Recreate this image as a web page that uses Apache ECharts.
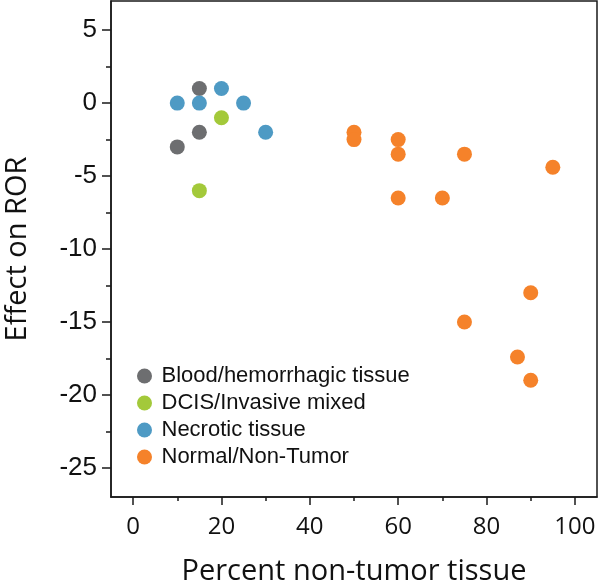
<!DOCTYPE html>
<html>
<head>
<meta charset="utf-8">
<script src="https://cdn.jsdelivr.net/npm/echarts@6/dist/echarts.min.js"></script>
<style>html,body{margin:0;padding:0;background:#fff}#c{width:600px;height:582px}</style>
</head>
<body>
<div id="c"></div>
<script>
var seriesNames = ['Blood/hemorrhagic tissue', 'DCIS/Invasive mixed', 'Necrotic tissue', 'Normal/Non-Tumor'];
var bloodData = [[15, 1], [15, -2], [10, -3]];
var dcisData = [[20, -1], [15, -6]];
var necroticData = [[10, 0], [15, 0], [20, 1], [25, 0], [30, -2]];
var normalData = [[50, -2], [50, -2.5], [60, -2.5], [60, -3.5], [75, -3.5], [95, -4.4], [60, -6.5], [70, -6.5], [90, -13], [75, -15], [87, -17.4], [90, -19]];
var xLabels = [0, 20, 40, 60, 80, 100];
var xMinor = [10, 30, 50, 70, 90];
var yLabels = [-25, -20, -15, -10, -5, 0, 5];
var yMinor = [-22.5, -17.5, -12.5, -7.5, -2.5, 2.5];
var colors = ['#6d6e70', '#a3c93a', '#4e9ac4', '#f5822a'];

var chart = echarts.init(document.getElementById('c'));
var axisColor = '#1a1a1a';
var allData = [bloodData, dcisData, necroticData, normalData];
chart.setOption({
  animation: false,
  grid: { left: 111, right: 3, top: 1, bottom: 85, containLabel: false, outerBoundsMode: 'none', show: true, borderColor: axisColor, borderWidth: 1.5, backgroundColor: 'transparent' },
  legend: {
    orient: 'vertical', left: 132, top: 360,
    icon: 'circle', itemWidth: 24, itemHeight: 15, itemGap: 5,
    textStyle: { fontFamily: 'Liberation Sans', fontSize: 22, color: '#111', lineHeight: 22 },
    data: seriesNames
  },
  xAxis: [{
    type: 'value', min: -5, max: 105, position: 'bottom',
    name: 'Percent non-tumor tissue', nameLocation: 'middle', nameGap: 60,
    nameTextStyle: { fontFamily: 'Open Sans', fontSize: 29, color: '#111' },
    axisLine: { show: true, onZero: false, lineStyle: { color: axisColor, width: 1.5 } },
    axisTick: { show: true, length: 8, customValues: xLabels, lineStyle: { color: axisColor, width: 1.5 } },
    axisLabel: { customValues: xLabels, margin: 18, fontFamily: 'Open Sans', fontSize: 24, color: '#111' },
    splitLine: { show: false }
  }, {
    type: 'value', min: -5, max: 105, position: 'bottom',
    axisLine: { show: false, onZero: false },
    axisTick: { show: true, length: 4, customValues: xMinor, lineStyle: { color: axisColor, width: 1.5 } },
    axisLabel: { show: false },
    splitLine: { show: false }
  }],
  yAxis: [{
    type: 'value', min: -27, max: 7, position: 'left',
    name: 'Effect on ROR', nameLocation: 'middle', nameGap: 79,
    nameTextStyle: { fontFamily: 'Open Sans', fontSize: 29, color: '#111' },
    axisLine: { show: true, onZero: false, lineStyle: { color: axisColor, width: 1.5 } },
    axisTick: { show: true, length: 9, customValues: yLabels, lineStyle: { color: axisColor, width: 1.5 } },
    axisLabel: { customValues: yLabels, margin: 14, fontFamily: 'Liberation Sans', fontSize: 26, color: '#111' },
    splitLine: { show: false }
  }, {
    type: 'value', min: -27, max: 7, position: 'left',
    axisLine: { show: false, onZero: false },
    axisTick: { show: true, length: 5, customValues: yMinor, lineStyle: { color: axisColor, width: 1.5 } },
    axisLabel: { show: false },
    splitLine: { show: false }
  }],
  series: seriesNames.map(function (n, i) {
    return {
      name: n, type: 'scatter', xAxisIndex: 0, yAxisIndex: 0,
      symbol: 'circle', symbolSize: 15,
      itemStyle: { color: colors[i], opacity: 1 },
      data: allData[i]
    };
  })
});
</script>
</body>
</html>
